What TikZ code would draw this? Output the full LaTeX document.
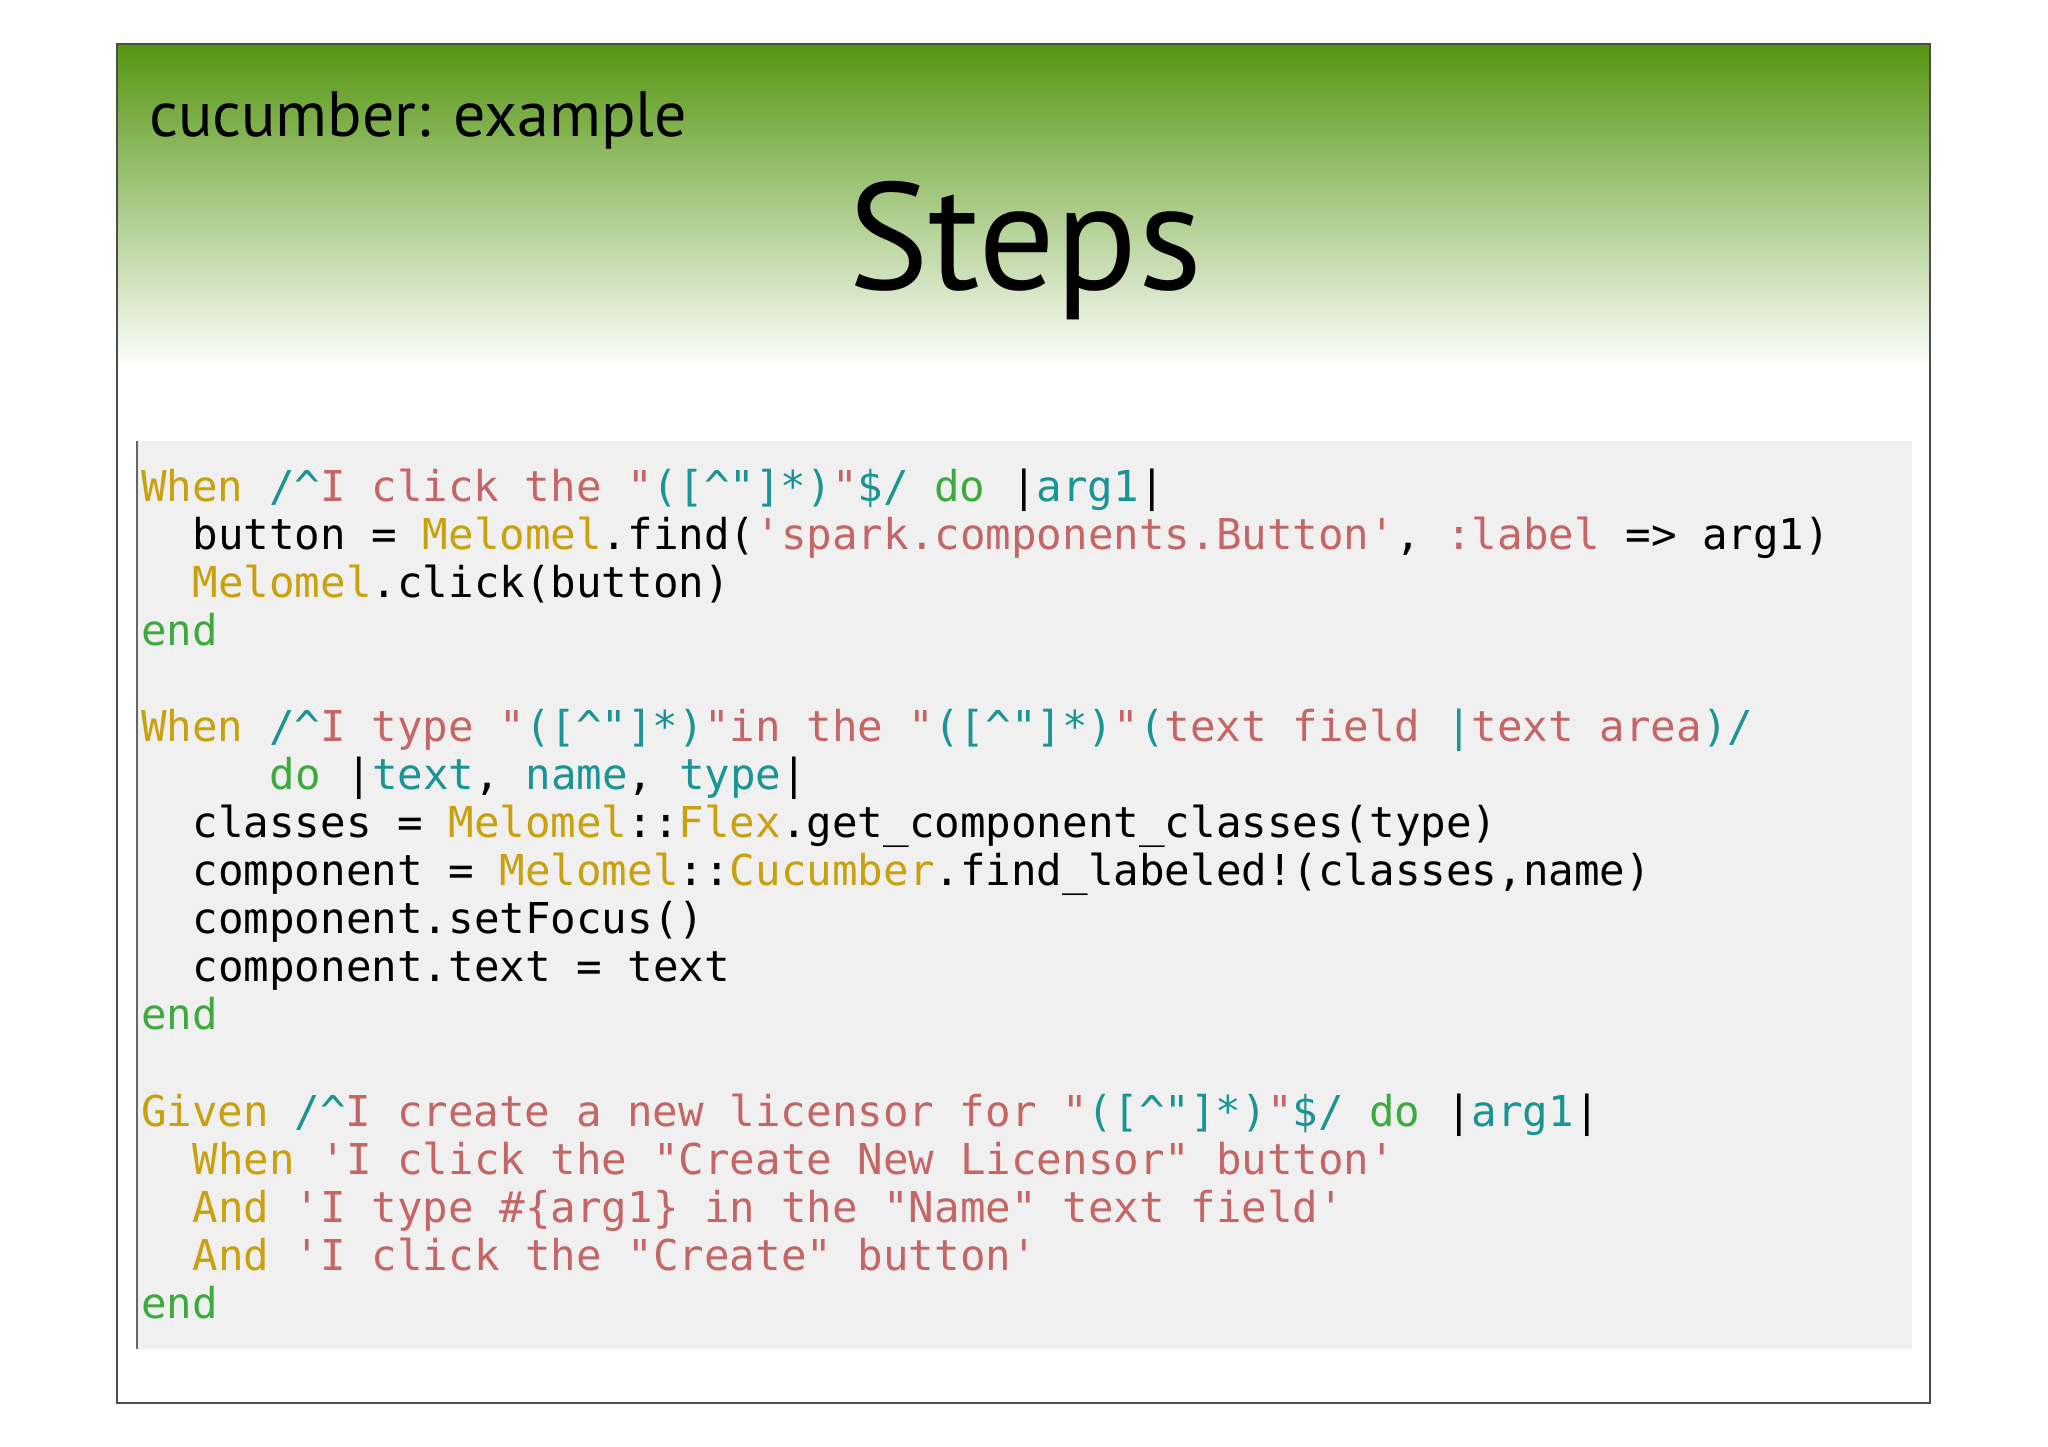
\documentclass[tikz,border=0pt]{standalone}
\usepackage{fontspec}
\setmainfont{PT Sans}
\setmonofont{DejaVu Sans Mono}
\definecolor{cy}{HTML}{C9A00E}
\definecolor{cs}{HTML}{C56666}
\definecolor{ct}{HTML}{1A9494}
\definecolor{cg}{HTML}{3DAA3D}
\definecolor{hg}{HTML}{559611}
\definecolor{hm}{HTML}{A3C47E}
\definecolor{codebg}{HTML}{F0F0F0}
\newcommand\cY[1]{\textcolor{cy}{#1}}
\newcommand\cS[1]{\textcolor{cs}{#1}}
\newcommand\cT[1]{\textcolor{ct}{#1}}
\newcommand\cG[1]{\textcolor{cg}{#1}}
\newcommand\rx{\cS{"}\cT{([\textasciicircum"]*)}\cS{"}}
\tikzset{code/.style={anchor=base west,inner sep=0pt,font=\ttfamily\fontsize{42.5}{48}\selectfont}}
\begin{document}
\begin{tikzpicture}[x=1pt,y=-1pt]
\useasboundingbox (0,0) rectangle (2048,1447);
\fill[white] (0,0) rectangle (2048,1447);
\shade[top color=hg,middle color=hm,bottom color=white] (117,44) rectangle (1930,370);
\draw[draw=black!70,line width=1.2pt] (117,44) rectangle (1930,1403);
\fill[codebg] (136,441) rectangle (1912,1349);
\draw[black!60,line width=1.5pt] (137,441) -- (137,1349);
\node[anchor=base west,inner sep=0pt,font=\fontsize{64}{70}\selectfont] (sub) at (149,137) {cucumber: example};
\node[anchor=base,inner sep=0pt,font=\fontsize{152}{160}\selectfont] (ttl) at (1025,290) {Steps};
\def\cx{141}\def\cw{25.7}
\node[code] (l0) at (\cx,501) {\cY{When} \cT{/\textasciicircum}\cS{I click the }\rx\cT{\$/} \cG{do} |\cT{arg1}|};
\node[code] (l1) at (\cx+2*\cw,549) {button = \cY{Melomel}.find(\cS{'spark.components.Button'}, \cS{:label} => arg1)};
\node[code] (l2) at (\cx+2*\cw,597) {\cY{Melomel}.click(button)};
\node[code] (l3) at (\cx,645) {\cG{end}};
\node[code] (l5) at (\cx,741) {\cY{When} \cT{/\textasciicircum}\cS{I type }\rx\cS{ in the }\rx\cS{ }\cT{(}\cS{text field }\cT{|}\cS{ text area}\cT{)/}};
\node[code] (l6) at (\cx+5*\cw,789) {\cG{do} |\cT{text}, \cT{name}, \cT{type}|};
\node[code] (l7) at (\cx+2*\cw,837) {classes = \cY{Melomel}::\cY{Flex}.get\_component\_classes(type)};
\node[code] (l8) at (\cx+2*\cw,885) {component = \cY{Melomel}::\cY{Cucumber}.find\_labeled!(classes,name)};
\node[code] (l9) at (\cx+2*\cw,933) {component.setFocus()};
\node[code] (l10) at (\cx+2*\cw,981) {component.text = text};
\node[code] (l11) at (\cx,1029) {\cG{end}};
\node[code] (l13) at (\cx,1126) {\cY{Given} \cT{/\textasciicircum}\cS{I create a new licensor for }\rx\cT{\$/} \cG{do} |\cT{arg1}|};
\node[code] (l14) at (\cx+2*\cw,1174) {\cY{When} \cS{'I click the "Create New Licensor" button'}};
\node[code] (l15) at (\cx+2*\cw,1222) {\cY{And} \cS{'I type \#\{arg1\} in the "Name" text field'}};
\node[code] (l16) at (\cx+2*\cw,1270) {\cY{And} \cS{'I click the "Create" button'}};
\node[code] (l17) at (\cx,1318) {\cG{end}};
\end{tikzpicture}
\end{document}
